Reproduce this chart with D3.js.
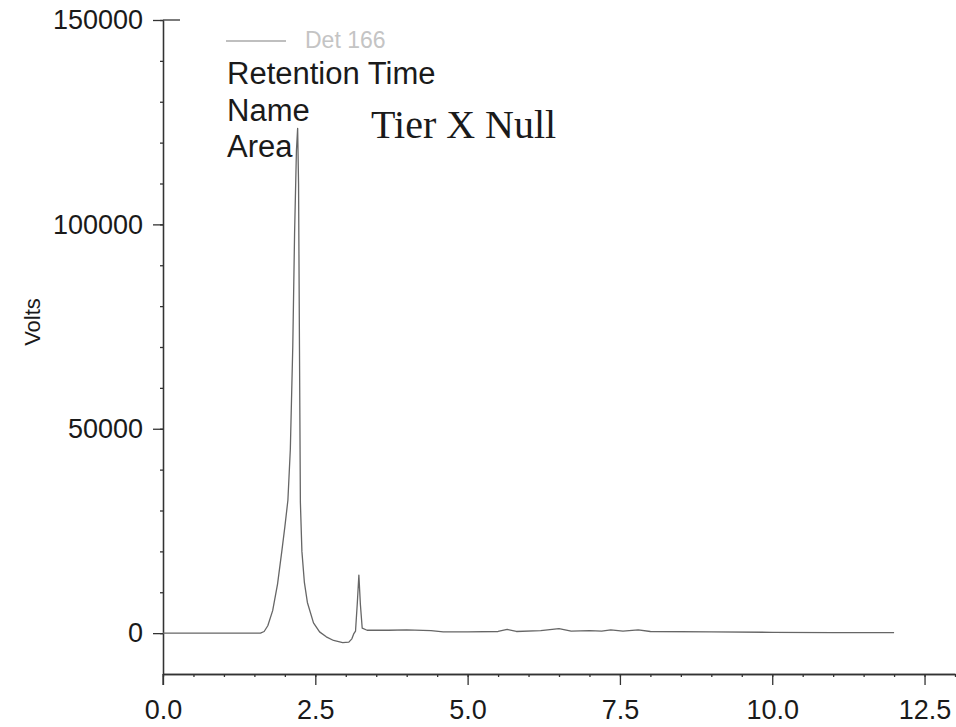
<!DOCTYPE html>
<meta charset="utf-8">
<style>

body {
  margin: 0;
  background: #fff;
}

text {
  font-family: "Liberation Sans", Arial, sans-serif;
  fill: #1a1a1a;
}

.axis path,
.axis line {
  stroke: #333;
  stroke-width: 1.3px;
}

.trace {
  fill: none;
  stroke: #666;
  stroke-width: 1.3px;
  stroke-linejoin: round;
}

</style>
<svg width="956" height="727"></svg>
<script src="https://d3js.org/d3.v7.min.js"></script>
<script>

// retention time (min) and detector response
var times = [0, 1.6, 1.66, 1.72, 1.8, 1.88, 1.95, 2.0, 2.05, 2.09, 2.13, 2.16, 2.19, 2.21,
    2.225, 2.24, 2.255, 2.28, 2.32, 2.37, 2.47, 2.57, 2.68, 2.8, 2.95, 3.05, 3.1, 3.13,
    3.16, 3.19, 3.215, 3.24, 3.27, 3.35, 3.7, 4.0, 4.4, 4.6, 5.0, 5.5, 5.65, 5.8, 6.2,
    6.5, 6.7, 7.0, 7.2, 7.35, 7.55, 7.8, 8.0, 9.0, 10.0, 11.0, 12.0];

var volts = [0, 0, 400, 1800, 5500, 12000, 20000, 26000, 32500, 45000, 70000, 98000, 118000, 123500,
    110000, 70000, 32000, 20000, 12500, 7500, 2500, 300, -900, -1800, -2300, -2200, -1400, -200,
    500, 7500, 14200, 7000, 1200, 700, 700, 800, 600, 300, 300, 400, 900, 400, 600,
    1100, 500, 600, 500, 800, 500, 800, 400, 300, 200, 100, 100];

var xTicks = [0, 2.5, 5, 7.5, 10, 12.5],
    yTicks = [0, 50000, 100000, 150000];

var legendLines = ["Retention Time", "Name", "Area"];

var svg = d3.select("svg");

var x = d3.scaleLinear()
    .domain([0, 13])
    .range([163, 955]);

var y = d3.scaleLinear()
    .domain([-10000, 150000])
    .range([674, 20]);

// minor ticks first so the major ones draw on top
svg.append("g")
    .attr("class", "axis")
    .attr("transform", "translate(0," + y.range()[0] + ")")
    .call(d3.axisBottom(x).tickValues(d3.range(0, 13.01, 0.5)).tickSize(3).tickSizeOuter(0).tickFormat(""));

svg.append("g")
    .attr("class", "axis")
    .attr("transform", "translate(" + x.range()[0] + ",0)")
    .call(d3.axisLeft(y).tickValues(d3.range(0, 150001, 10000)).tickSize(3).tickSizeOuter(0).tickFormat(""));

var xAxis = svg.append("g")
    .attr("class", "axis")
    .attr("transform", "translate(0," + y.range()[0] + ")")
    .call(d3.axisBottom(x).tickValues(xTicks).tickSize(11).tickSizeOuter(0).tickPadding(15).tickFormat(d3.format(".1f")));

xAxis.selectAll("text")
    .style("font-size", "27px")
    .style("font-family", "'Liberation Sans', Arial, sans-serif")
    .attr("fill", "#1a1a1a");

var yAxis = svg.append("g")
    .attr("class", "axis")
    .attr("transform", "translate(" + x.range()[0] + ",0)")
    .call(d3.axisLeft(y).tickValues(yTicks).tickSize(10).tickSizeOuter(0).tickPadding(10).tickFormat(d3.format("d")));

yAxis.selectAll("text")
    .style("font-size", "27px")
    .style("font-family", "'Liberation Sans', Arial, sans-serif")
    .attr("fill", "#1a1a1a");

// the axis line runs a little below the time axis, and the top tick is a "T"
yAxis.append("line")
    .attr("x1", 0).attr("x2", 0)
    .attr("y1", y.range()[0]).attr("y2", y.range()[0] + 11);

yAxis.append("line")
    .attr("x1", 0).attr("x2", 17)
    .attr("y1", y(150000)).attr("y2", y(150000));

svg.append("text")
    .attr("transform", "translate(40,322) rotate(-90)")
    .attr("text-anchor", "middle")
    .style("font-size", "22px")
    .text("Volts");

var line = d3.line()
    .x(function(d, i) { return x(times[i]); })
    .y(function(d) { return y(d); });

svg.append("path")
    .attr("class", "trace")
    .attr("d", line(volts));

// legend
svg.append("line")
    .attr("x1", 226).attr("x2", 286)
    .attr("y1", 41).attr("y2", 41)
    .attr("stroke", "#aaa")
    .attr("stroke-width", 1.3);

svg.append("text")
    .attr("x", 305)
    .attr("y", 48)
    .style("font-size", "23px")
    .style("fill", "#c4c4c4")
    .text("Det 166");

svg.selectAll(".legend-line")
    .data(legendLines)
  .enter().append("text")
    .attr("class", "legend-line")
    .attr("x", 227)
    .attr("y", function(d, i) { return 84 + i * 36.5; })
    .style("font-size", "31px")
    .text(function(d) { return d; });

svg.append("text")
    .attr("x", 371)
    .attr("y", 138)
    .style("font-family", "'Liberation Serif', 'Times New Roman', serif")
    .style("font-size", "40px")
    .text("Tier X Null");

</script>
